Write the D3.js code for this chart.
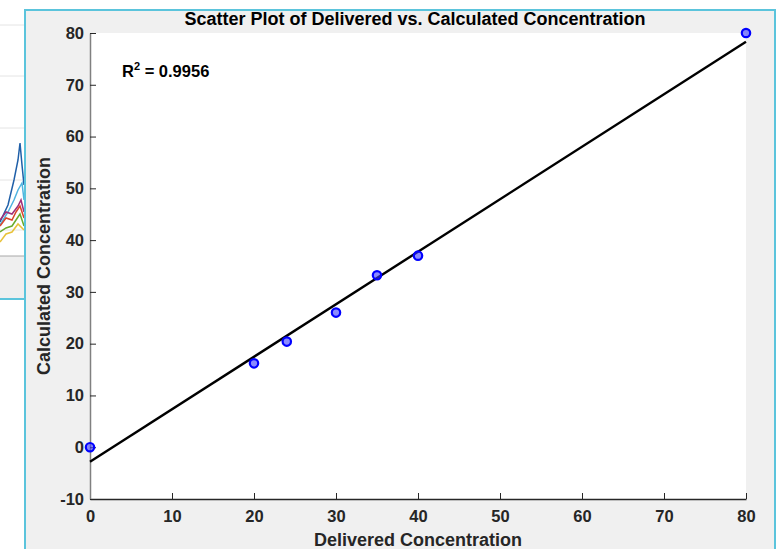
<!doctype html>
<html>
  <head>
    <meta charset="utf-8">
    <script src="https://cdnjs.cloudflare.com/ajax/libs/d3/7.8.5/d3.min.js"></script>
    <style>
      body { margin: 0; background: #fff; }
      text { font-family: "Liberation Sans", Arial, Helvetica, sans-serif; font-weight: bold; }
    </style>
  </head>
  <body>
    <svg id="chart" width="780" height="549"></svg>
    <script>
      // measured points (delivered, calculated)
      var delivered = [0, 20, 24, 30, 35, 40, 80];
      var calculated = [0, 16.2, 20.4, 26, 33.2, 37, 80];
      // least squares line
      var fitX = [0, 80];
      var fitY = [-2.8, 78.3];
      var rSquared = "0.9956";
      var xTicks = [0, 10, 20, 30, 40, 50, 60, 70, 80];
      var yTicks = [-10, 0, 10, 20, 30, 40, 50, 60, 70, 80];

      // bits of the window behind the figure (left edge)
      var bgGrid = [25, 76, 128, 180, 230];
      var bgLines = [
        {color: "#1f5fa8", pts: [[0, 222], [8, 205], [14, 180], [18, 160], [20, 143], [22, 165], [24, 185]]},
        {color: "#4fb3e0", pts: [[0, 225], [8, 212], [14, 200], [18, 190], [22, 183], [24, 200]]},
        {color: "#a0307a", pts: [[0, 220], [6, 212], [12, 214], [18, 206], [21, 200], [24, 212]]},
        {color: "#d9452b", pts: [[0, 226], [6, 218], [12, 220], [16, 212], [20, 206], [24, 218]]},
        {color: "#6aaa2a", pts: [[0, 232], [6, 228], [12, 226], [16, 220], [20, 214], [24, 226]]},
        {color: "#e8c23a", pts: [[0, 242], [6, 234], [12, 232], [18, 224], [24, 230]]}
      ];

      var svg = d3.select("#chart");

      // background window
      var bg = svg.append("g");
      bg.selectAll("line.grid").data(bgGrid).enter()
        .append("line").attr("class", "grid")
          .attr("x1", 0).attr("x2", 25)
          .attr("y1", d => d).attr("y2", d => d)
          .style("stroke", "#e4e4e4");
      var bgLine = d3.line().x(d => d[0]).y(d => d[1]);
      bg.selectAll("path").data(bgLines).enter()
        .append("path")
          .attr("d", d => bgLine(d.pts))
          .style("fill", "none")
          .style("stroke", d => d.color)
          .style("stroke-width", 1.5);
      bg.append("rect").attr("x", 0).attr("y", 256).attr("width", 25).attr("height", 43)
        .style("fill", "#efefef");
      bg.append("line").attr("x1", 0).attr("x2", 25).attr("y1", 256).attr("y2", 256)
        .style("stroke", "#a8a8a8");
      bg.append("line").attr("x1", 0).attr("x2", 25).attr("y1", 299).attr("y2", 299)
        .style("stroke", "#5bc4dc").style("stroke-width", 2);

      // figure window
      svg.append("rect")
        .attr("x", 25).attr("y", 10).attr("width", 750).attr("height", 560)
        .style("fill", "#f0f0f0")
        .style("stroke", "#5bc4dc")
        .style("stroke-width", 2);

      var pLeft = 90, pRight = 746, pTop = 33, pBottom = 499;
      var x = d3.scaleLinear().domain([0, 80]).range([pLeft, pRight]);
      var y = d3.scaleLinear().domain([-10, 80]).range([pBottom, pTop]);
      var fmt = d => String(d);

      svg.append("rect")
        .attr("x", pLeft).attr("y", pTop)
        .attr("width", pRight - pLeft).attr("height", pBottom - pTop)
        .style("fill", "#fff");

      var xAxis = svg.append("g")
        .attr("transform", "translate(0," + pBottom + ")")
        .call(d3.axisBottom(x).tickValues(xTicks).tickFormat(fmt)
          .tickSizeInner(-6).tickSizeOuter(0).tickPadding(11));
      var yAxis = svg.append("g")
        .attr("transform", "translate(" + pLeft + ",0)")
        .call(d3.axisLeft(y).tickValues(yTicks).tickFormat(fmt)
          .tickSizeInner(-6).tickSizeOuter(0).tickPadding(6));

      xAxis.select(".domain").style("stroke", "#262626").style("stroke-width", 1.5);
      yAxis.select(".domain").style("stroke", "#808080").style("stroke-width", 1.5);
      svg.selectAll(".tick line").style("stroke", "#262626");
      svg.selectAll(".tick text")
        .style("font-size", "16.5px")
        .style("font-family", "'Liberation Sans', Arial, sans-serif")
        .style("font-weight", "bold")
        .style("fill", "#262626");

      // fit line
      svg.append("line")
        .attr("x1", x(fitX[0])).attr("y1", y(fitY[0]))
        .attr("x2", x(fitX[1])).attr("y2", y(fitY[1]))
        .style("stroke", "#000")
        .style("stroke-width", 2.4);

      // points
      svg.selectAll("circle.pt").data(delivered).enter()
        .append("circle").attr("class", "pt")
          .attr("cx", d => x(d))
          .attr("cy", (d, i) => y(calculated[i]))
          .attr("r", 4.2)
          .style("fill", "rgba(60,60,255,0.6)")
          .style("stroke", "#0000ff")
          .style("stroke-width", 2.2);

      // R^2 annotation
      var rt = svg.append("text")
        .attr("x", 122).attr("y", 77)
        .style("font-size", "16.5px")
        .style("fill", "#000");
      rt.append("tspan").text("R");
      rt.append("tspan").attr("dy", -7).style("font-size", "11px").text("2");
      rt.append("tspan").attr("dy", 7).text(" = " + rSquared);

      // title and labels
      svg.append("text")
        .attr("x", (pLeft + pRight) / 2 - 3).attr("y", 25)
        .attr("text-anchor", "middle")
        .style("font-size", "18px")
        .style("fill", "#000")
        .text("Scatter Plot of Delivered vs. Calculated Concentration");

      svg.append("text")
        .attr("x", (pLeft + pRight) / 2).attr("y", 546)
        .attr("text-anchor", "middle")
        .style("font-size", "18px")
        .style("fill", "#262626")
        .text("Delivered Concentration");

      svg.append("text")
        .attr("transform", "translate(50," + (pTop + pBottom) / 2 + ") rotate(-90)")
        .attr("text-anchor", "middle")
        .style("font-size", "18px")
        .style("fill", "#262626")
        .text("Calculated Concentration");
    </script>
  </body>
</html>
